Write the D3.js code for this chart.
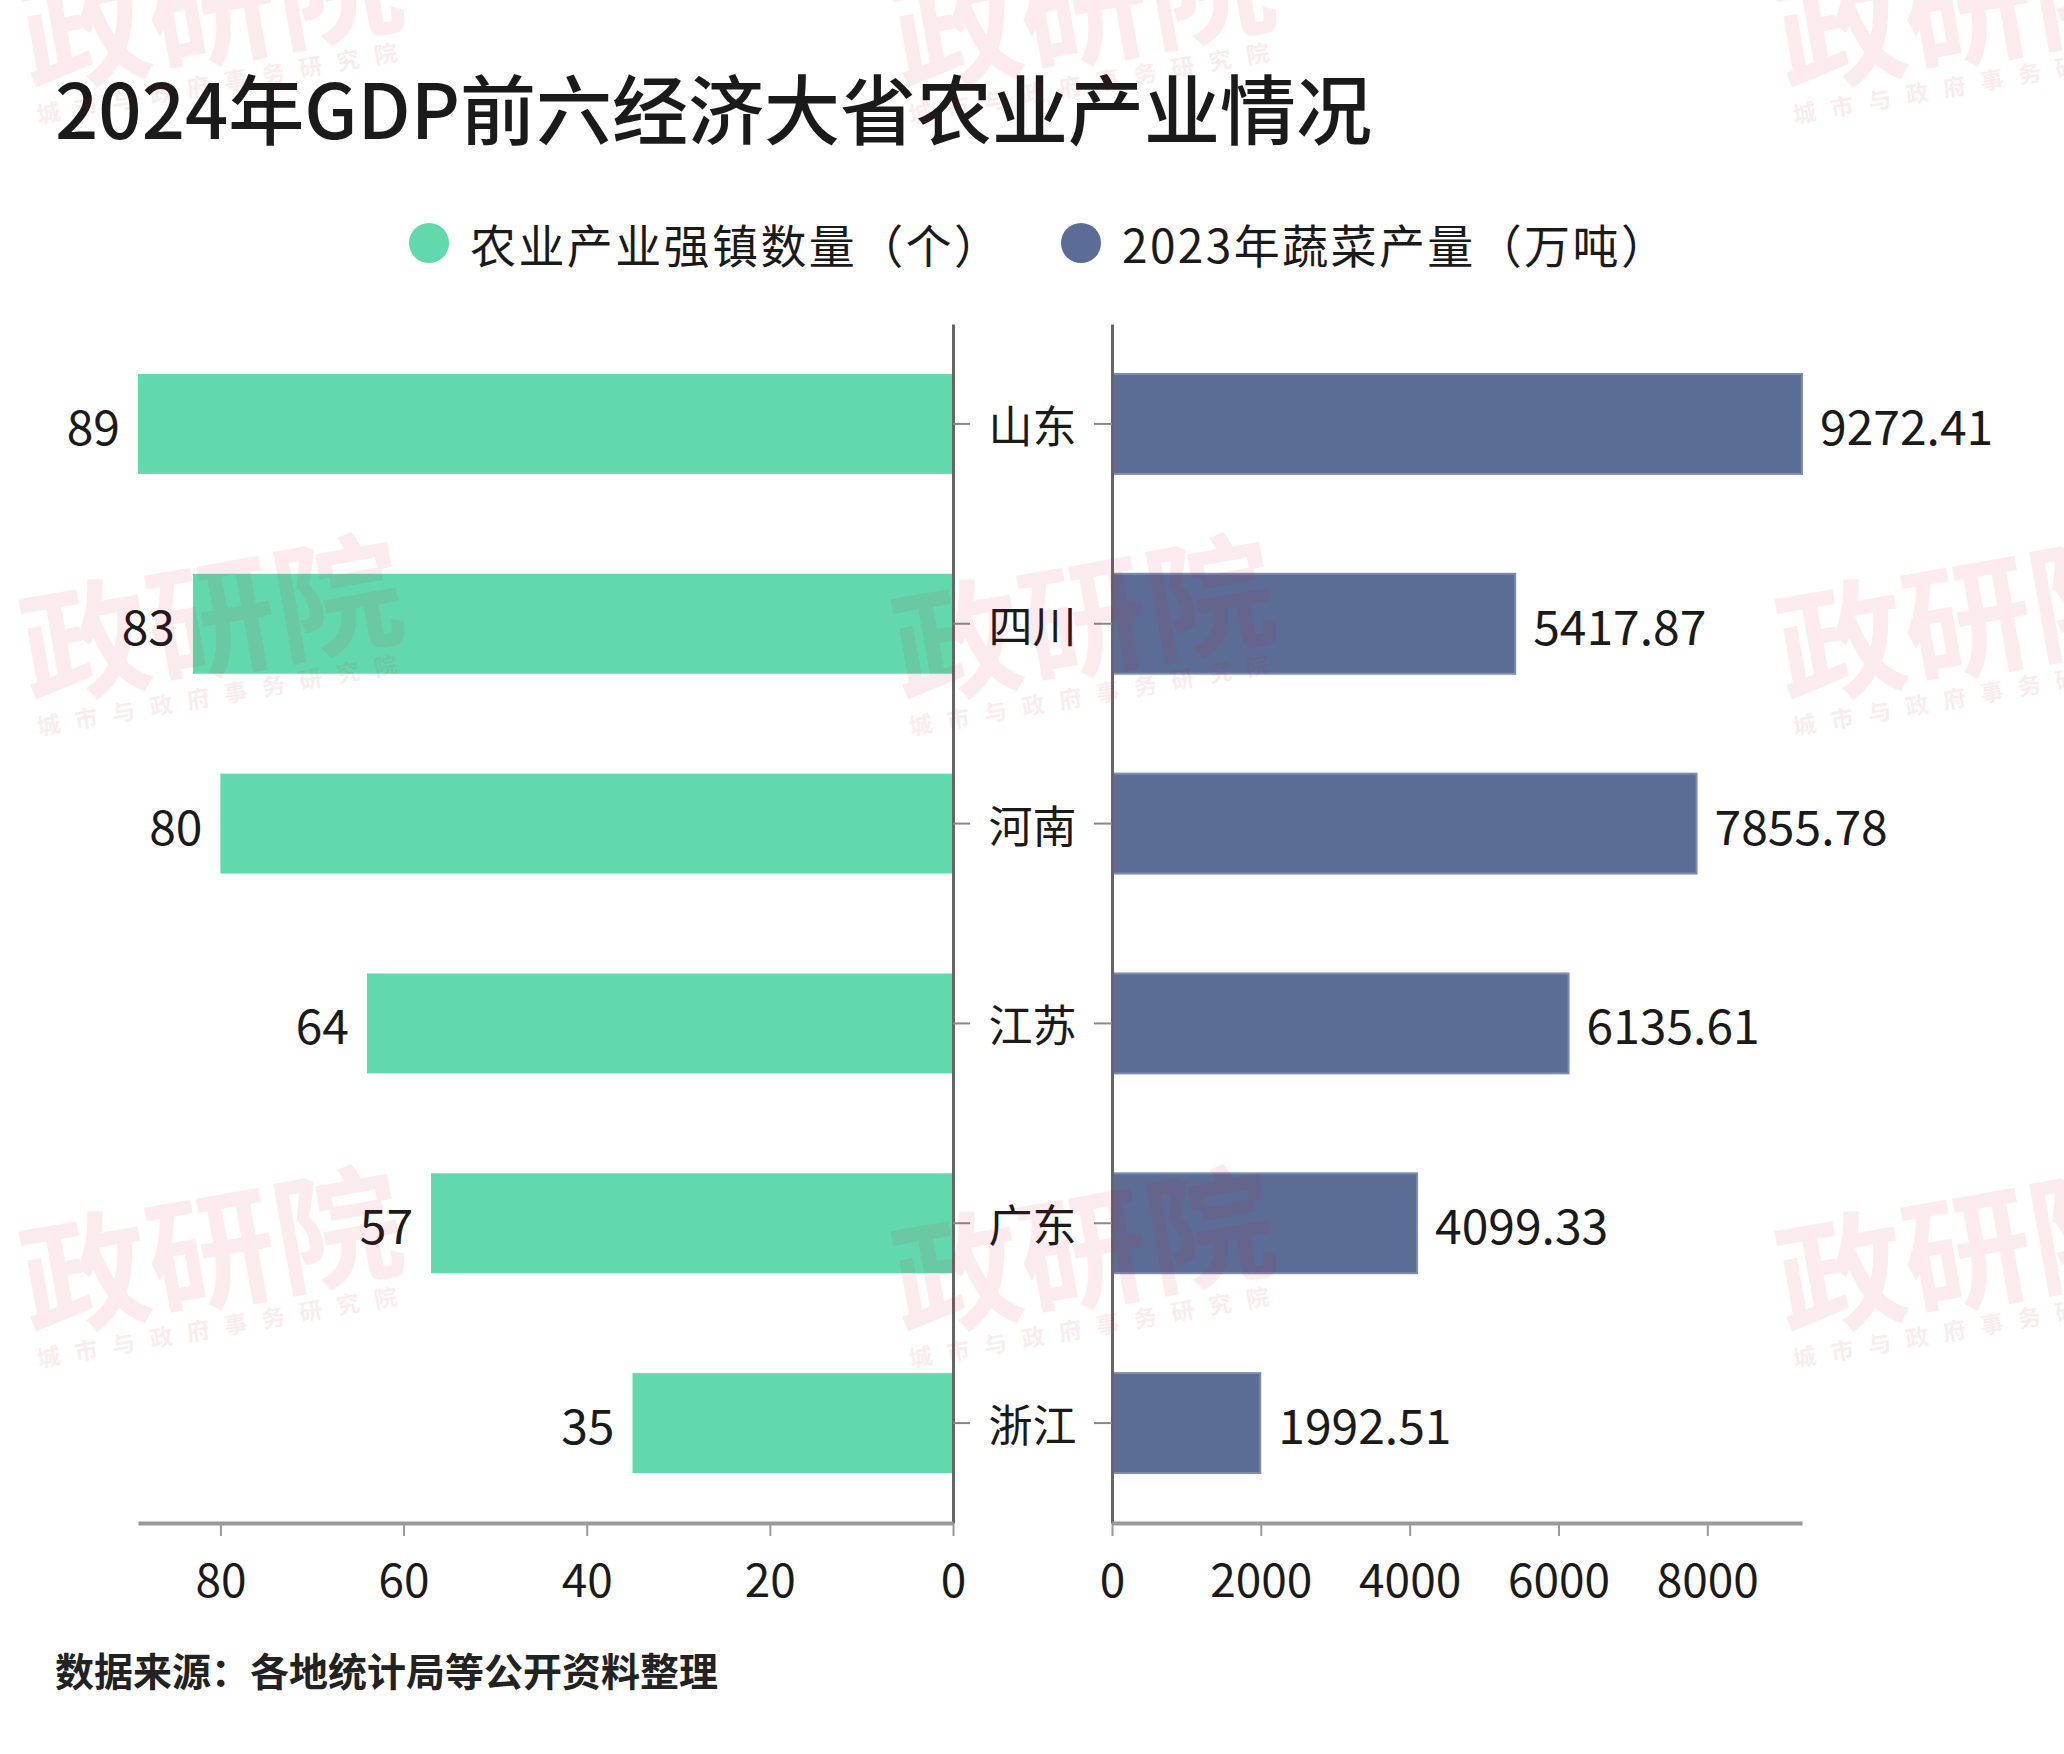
<!DOCTYPE html>
<html>
<head>
<meta charset="utf-8">
<script src="https://cdn.jsdelivr.net/npm/d3@7"></script>
<style>
  html, body { margin: 0; padding: 0; background: #fff; }
  svg { display: block; font-family: "Noto Sans CJK SC", "Noto Sans", sans-serif; }
</style>
</head>
<body>
<svg id="chart" width="2064" height="1754"></svg>
<script>
const title = "2024年GDP前六经济大省农业产业情况";
const source = "数据来源：各地统计局等公开资料整理";
const seriesNames = ["农业产业强镇数量（个）", "2023年蔬菜产量（万吨）"];
const categories = ["山东", "四川", "河南", "江苏", "广东", "浙江"];
const towns = [89, 83, 80, 64, 57, 35];
const vegetables = [9272.41, 5417.87, 7855.78, 6135.61, 4099.33, 1992.51];
const leftTicks = [0, 20, 40, 60, 80];
const rightTicks = [0, 2000, 4000, 6000, 8000];
const watermarkMain = "政研院";
const watermarkSub = "城市与政府事务研究院";

const colors = { towns: "#62d9ac", veg: "#5b6d96" };

const svg = d3.select("#chart");
svg.append("rect").attr("width", 2064).attr("height", 1754).attr("fill", "#fff");

// layout constants
const leftZero = 953, leftEnd = 138;
const rightZero = 1112, rightEnd = 1802;
const plotTop = 324, plotBottom = 1523;
const midX = (leftZero + rightZero) / 2;

const xL = d3.scaleLinear().domain([0, d3.max(towns)]).range([leftZero, leftEnd]);
const xR = d3.scaleLinear().domain([0, d3.max(vegetables)]).range([rightZero, rightEnd]);
const y = d3.scaleBand().domain(categories).range([plotTop, plotBottom])
  .paddingInner(0.5).paddingOuter(0.25);

// title
svg.append("text").attr("x", 55).attr("y", 106)
  .attr("dominant-baseline", "central")
  .attr("font-size", 76).attr("font-weight", 500).attr("fill", "#1a1a1a")
  .text(title);

// legend
const legend = [
  { name: seriesNames[0], color: colors.towns, cx: 429 },
  { name: seriesNames[1], color: colors.veg, cx: 1081 }
];
legend.forEach(l => {
  svg.append("circle").attr("cx", l.cx).attr("cy", 243).attr("r", 20).attr("fill", l.color);
  svg.append("text").attr("x", l.cx + 41).attr("y", 243)
    .attr("dominant-baseline", "central")
    .attr("font-size", 46).attr("letter-spacing", 2.4).attr("fill", "#1a1a1a").text(l.name);
});

const rows = categories.map((c, i) => ({ cat: c, towns: towns[i], veg: vegetables[i] }));

// left bars
svg.append("g").selectAll("rect").data(rows).join("rect")
  .attr("x", d => xL(d.towns)).attr("y", d => y(d.cat))
  .attr("width", d => leftZero - xL(d.towns)).attr("height", y.bandwidth())
  .attr("fill", colors.towns);

// right bars
svg.append("g").selectAll("rect").data(rows).join("rect")
  .attr("x", rightZero).attr("y", d => y(d.cat))
  .attr("width", d => xR(d.veg) - rightZero).attr("height", y.bandwidth())
  .attr("fill", colors.veg)
  .attr("stroke", "#7d8db0").attr("stroke-width", 2);

// value labels
svg.append("g").selectAll("text").data(rows).join("text")
  .attr("x", d => xL(d.towns) - 18).attr("y", d => y(d.cat) + y.bandwidth() / 2)
  .attr("text-anchor", "end").attr("dominant-baseline", "central")
  .attr("font-size", 48).attr("fill", "#1a1a1a")
  .text(d => d.towns);
svg.append("g").selectAll("text").data(rows).join("text")
  .attr("x", d => xR(d.veg) + 18).attr("y", d => y(d.cat) + y.bandwidth() / 2)
  .attr("text-anchor", "start").attr("dominant-baseline", "central")
  .attr("font-size", 48).attr("fill", "#1a1a1a")
  .text(d => d3.format(".2f")(d.veg));

// vertical category axes
const axisL = d3.axisRight(y).tickSize(17).tickSizeOuter(0).tickFormat("");
const gAL = svg.append("g").attr("transform", `translate(${leftZero},0)`).call(axisL);
const axisR = d3.axisLeft(y).tickSize(18).tickSizeOuter(0).tickFormat("");
const gAR = svg.append("g").attr("transform", `translate(${rightZero},0)`).call(axisR);
[gAL, gAR].forEach(g => {
  g.select(".domain").attr("stroke", "#666").attr("stroke-width", 3);
  g.selectAll(".tick line").attr("stroke", "#888").attr("stroke-width", 2);
});

// category labels
svg.append("g").selectAll("text").data(categories).join("text")
  .attr("x", midX).attr("y", d => y(d) + y.bandwidth() / 2)
  .attr("text-anchor", "middle").attr("dominant-baseline", "central")
  .attr("font-size", 44).attr("fill", "#1a1a1a").text(d => d);

// bottom axes
const bL = d3.axisBottom(xL).tickValues(leftTicks).tickFormat(d3.format("d")).tickSize(13).tickSizeOuter(0);
const bR = d3.axisBottom(xR).tickValues(rightTicks).tickFormat(d3.format("d")).tickSize(13).tickSizeOuter(0);
const gBL = svg.append("g").attr("transform", `translate(0,${plotBottom})`).call(bL);
const gBR = svg.append("g").attr("transform", `translate(0,${plotBottom})`).call(bR);
[gBL, gBR].forEach(g => {
  g.select(".domain").attr("stroke", "#999").attr("stroke-width", 4);
  g.selectAll(".tick line").attr("stroke", "#999").attr("stroke-width", 2);
  g.selectAll(".tick text").attr("y", 54).attr("dy", null)
    .attr("dominant-baseline", "central")
    .attr("font-size", 46).attr("fill", "#1a1a1a")
    .attr("font-family", '"Noto Sans CJK SC", "Noto Sans", sans-serif');
});

// source
svg.append("text").attr("x", 55).attr("y", 1669)
  .attr("dominant-baseline", "central")
  .attr("font-size", 39).attr("font-weight", 700).attr("fill", "#222")
  .text(source);

// watermarks
const wmX = [210, 1082, 1966];
const wmY = [0, 612, 1244];
const wm = svg.append("g").attr("pointer-events", "none");
wmY.forEach(yy => wmX.forEach(xx => {
  const g = wm.append("g").attr("transform", `translate(${xx},${yy}) rotate(-10)`)
    .attr("fill", "rgb(213,5,47)").attr("opacity", 0.075);
  g.append("text").attr("text-anchor", "middle").attr("dominant-baseline", "central")
    .attr("font-size", 128).attr("font-weight", 700).text(watermarkMain);
  g.append("text").attr("y", 82).attr("text-anchor", "middle").attr("dominant-baseline", "central")
    .attr("font-size", 23).attr("font-weight", 700).attr("letter-spacing", 15).text(watermarkSub);
}));
</script>
</body>
</html>
